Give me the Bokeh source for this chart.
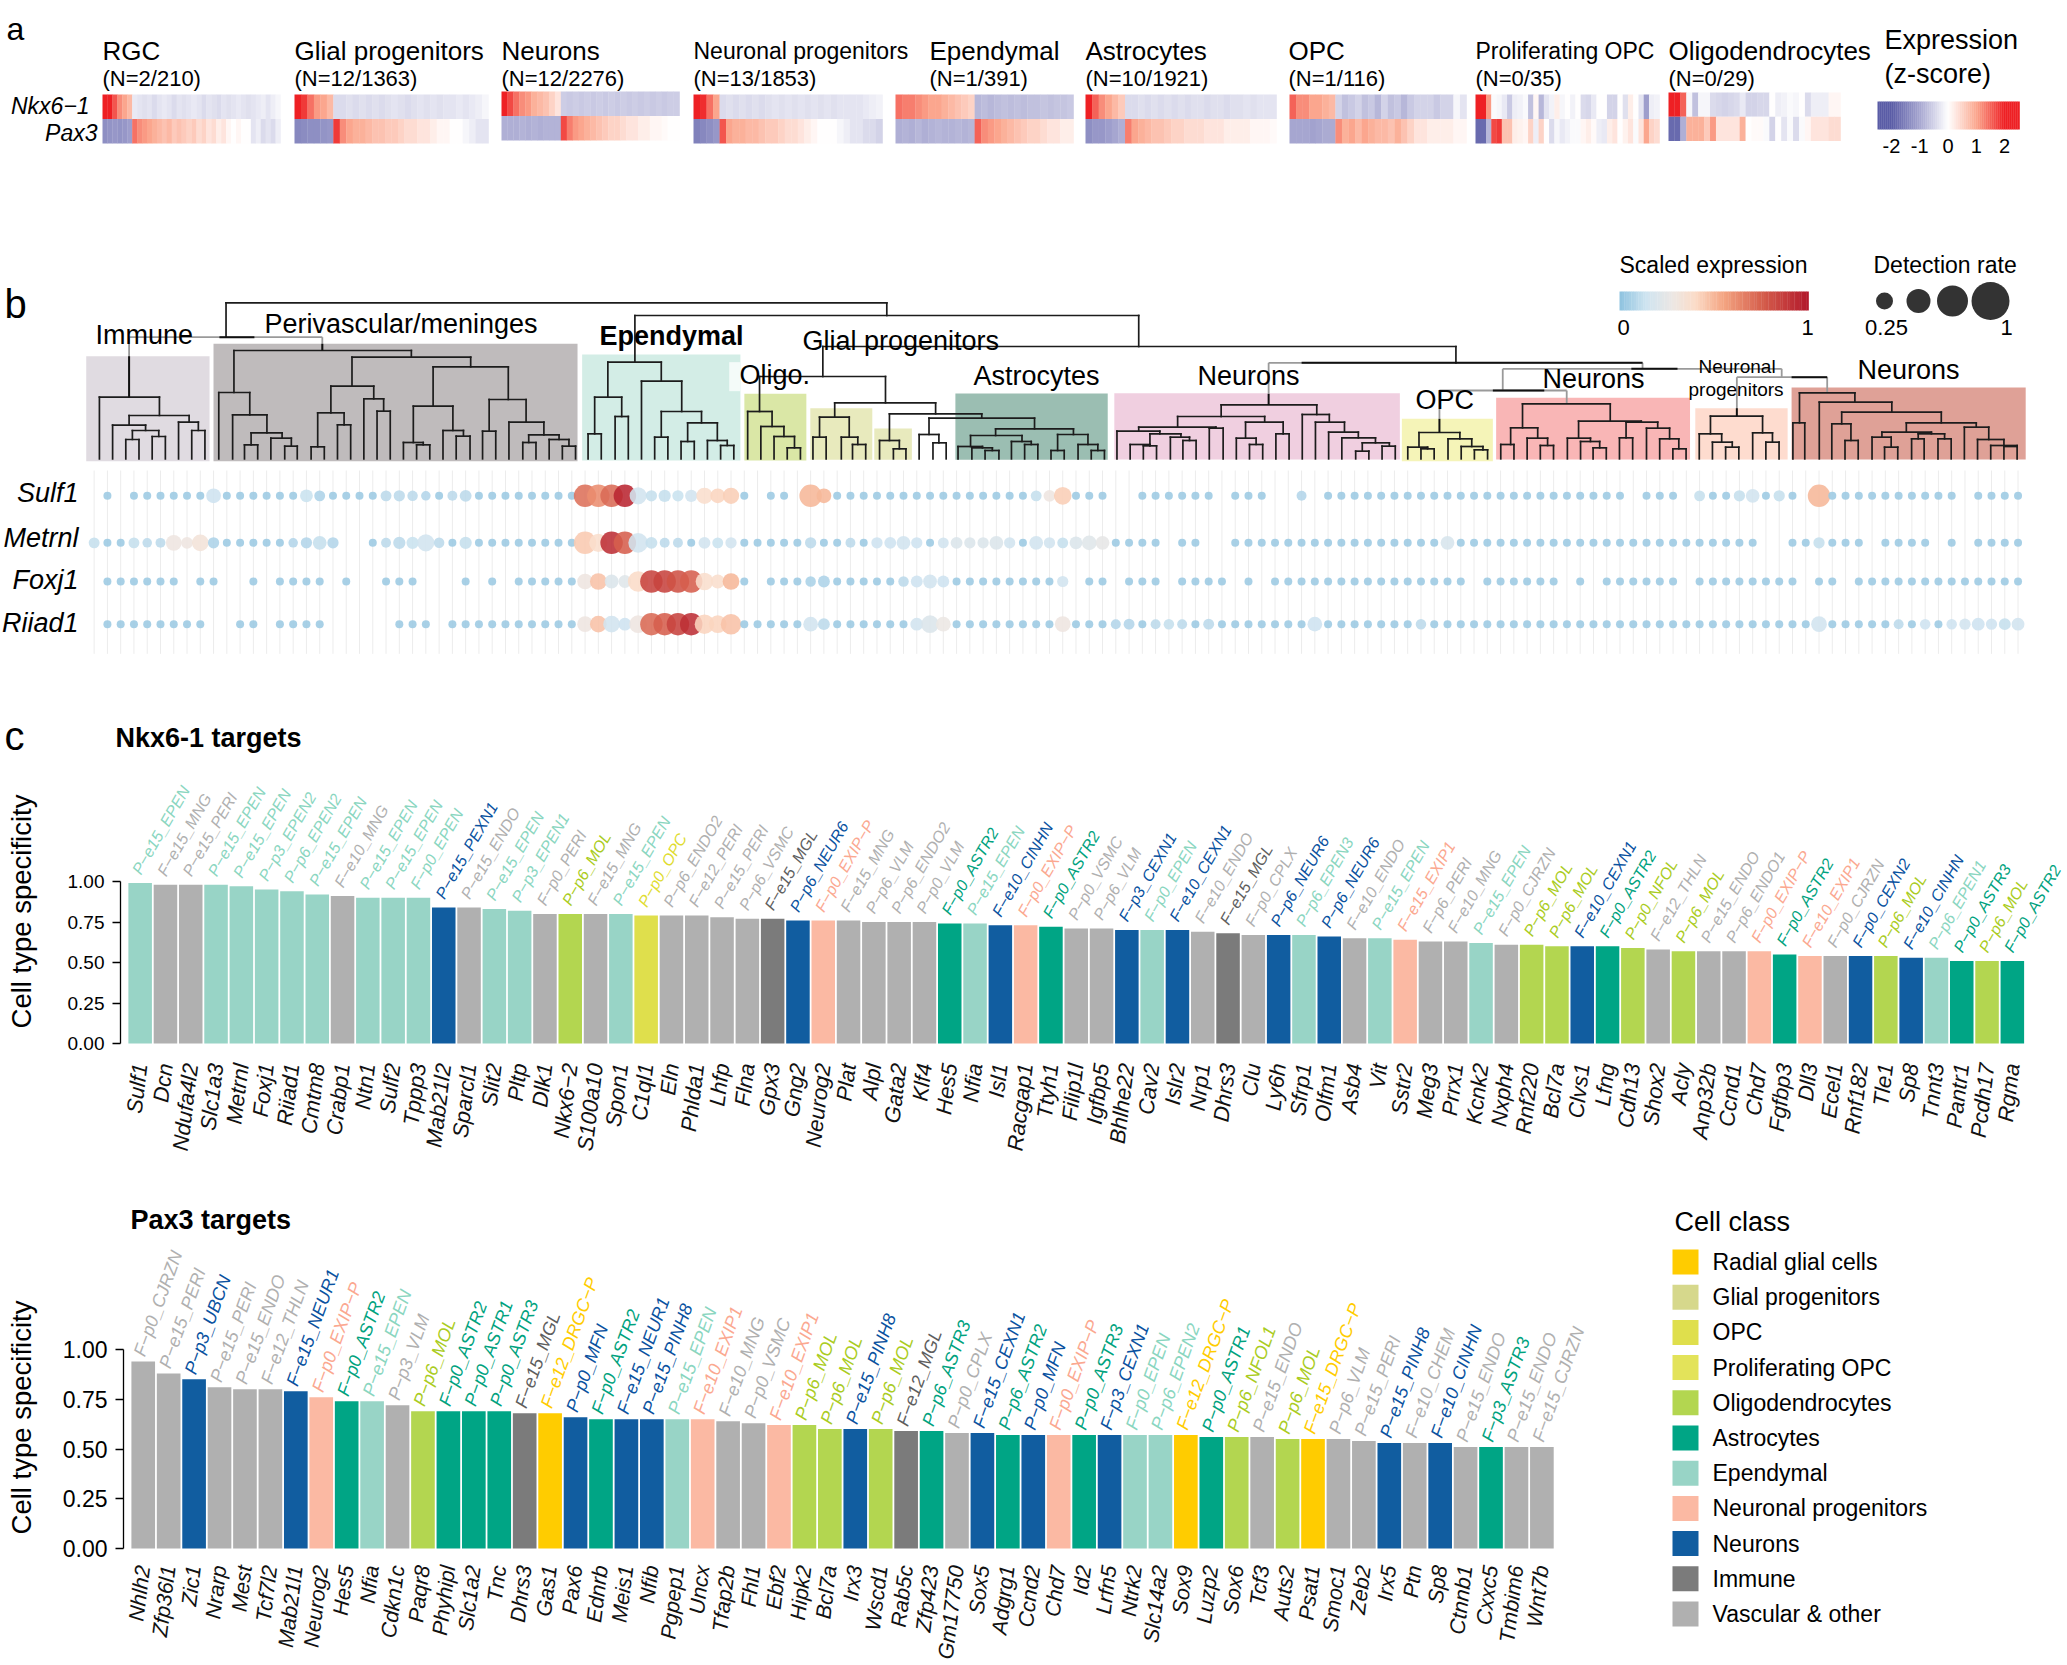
import numpy as np
from bokeh.core.properties import value
from bokeh.embed import file_html
from bokeh.layouts import column, row
from bokeh.models import ColumnDataSource, FixedTicker, LinearAxis, LinearColorMapper, NumeralTickFormatter, Range1d
from bokeh.plotting import figure
from bokeh.resources import INLINE
from bokeh.transform import transform

FONT = "Liberation Sans"

# ---------------- panel a data ----------------
heat_names = ["RGC", "Glial progenitors", "Neurons", "Neuronal progenitors", "Ependymal", "Astrocytes", "OPC",
              "Proliferating OPC", "Oligodendrocytes"]
heat_counts = ["(N=2/210)", "(N=12/1363)", "(N=12/2276)", "(N=13/1853)", "(N=1/391)", "(N=10/1921)", "(N=1/116)",
               "(N=0/35)", "(N=0/29)"]
rgc_nkx = [2, 2, 1.6, 1.2, 1.0, .8, -.25, -.3, -.35, -.3, -.4, -.3, -.25, -.3, -.4, -.3, -.35, -.3, -.25, -.3, -.4, -.3, -.35, -.4, -.3, -.35, -.3, -.25, -.3, -.35, -.3, -.25, -.2, -.3, -.2, -.1]
rgc_pax = [-1.3, -1.25, -1.2, -1.25, -1.2, -1.1, 1.4, 1.2, 1.1, 1.0, .9, .8, .7, .8, .6, .7, .6, .5, .6, .4, .5, .3, .4, .2, .3, .1, 0, .1, 0, 0, -.3, -.2, -.4, -.3, -.4, -.2]
glial_nkx = [2, 1.8, 1.4, 1.1, 1.0, .8, -.4, -.4, -.35, -.4, -.35, -.4, -.35, -.4, -.35, -.3, -.35, -.4, -.35, -.3, -.35, -.3, -.35, -.3, -.3, -.25, -.3, -.25, -.2, -.1]
glial_pax = [-1.4, -1.35, -1.3, -1.3, -1.25, -1.2, 1.8, 1.2, 1.0, .9, .9, .8, .7, .7, .6, .6, .5, .4, .4, .3, .3, .2, .1, .1, 0, 0, -.1, -.2, -.3, -.3]
neur_nkx = [2, 1.7, 1.4, 1.2, 1.1, .9, .8, .7, .5, .3, -.55, -.6, -.55, -.6, -.55, -.6, -.55, -.6, -.55, -.6, -.55, -.6, -.55, -.6, -.55, -.6, -.55, -.6, -.55, -.55]
neur_pax = [-.9, -.9, -.9, -.85, -.9, -.85, -.9, -.85, -.85, -.85, 1.7, 1.3, 1.1, 1, .9, .8, .7, .6, .5, .5, .4, .3, .3, .2, .2, .1, .1, .05, 0, 0]
nprog_nkx = [2, 1.9, 1.4, 1.0, -.4, -.35, -.4, -.35, -.4, -.35, -.4, -.35, -.3, -.35, -.3, -.35, -.3, -.35, -.3, -.35, -.3, -.35, -.3, -.3, -.3, -.3, -.25, -.2, -.15]
nprog_pax = [-1.5, -1.4, -1.3, -1.2, 1.6, 1.0, .9, .9, .8, .8, .7, .6, .6, .5, .4, .4, .3, .2, .1, 0, 0, 0, -.1, -.2, -.3, -.3, -.4, -.4, -.5]
epen_nkx = [1.4, 1.3, 1.3, 1.2, 1.1, 1, 1, .9, .8, .7, .6, .5, -.8, -.75, -.8, -.75, -.7, -.75, -.7, -.75, -.7, -.7, -.65, -.7, -.65, -.65, -.6]
epen_pax = [-.9, -.85, -.9, -.8, -.9, -.85, -.8, -.85, -.85, -.8, -.85, -.8, 1.5, 1.2, 1.1, 1, .9, .8, .7, .6, .5, .5, .4, .3, .3, .2, .2]
astro_nkx = [2, 1.5, 1.2, 1, .8, .6, -.4, -.4, -.35, -.4, -.35, -.4, -.35, -.4, -.35, -.4, -.35, -.35, -.4, -.35, -.35, -.4, -.35, -.35, -.3, -.35, -.3, -.3, -.3]
astro_pax = [-1.3, -1.2, -1.2, -1.1, -1, -.9, 1.3, 1, .9, .8, .7, .7, .6, .5, .5, .4, .4, .4, .3, .3, .3, .2, .2, .2, .2, .1, .1, .1, .05]
opc_nkx = [1.5, 1.2, 1.2, 1, 1, .9, .8, -.5, -.7, -.6, -.5, -.7, -.6, -.8, -.5, -.7, -.6, -.8, -.6, -.5, -.5, -.5, -.6, -.5, -.5, -.1, -.3]
opc_pax = [-1, -1, -1, -1.05, -1, -.95, -.95, 1.2, .9, 1, .8, 1, .9, .8, .8, .7, .9, .7, .5, .3, .3, .2, .2, .2, .2, .1, .1]
prolif_nkx = [2, 2, 1.1, -.05, -.1, -.25, -.6, -.2, -.15, -.05, -.7, .1, -.8, -.3, -.15, .2, -.1, 0, -.15, 0, -.4, -.45, -.25, 0, 0, -.5, -.5, 0, -.35, .2, 0, -.3, -1.1, -.2, -.15]
prolif_pax = [-1.8, -1.8, -.8, 1.7, 1.8, .7, .7, .2, .15, .1, .5, -.2, .5, 0, -.4, -.1, -.25, -.15, -.05, -.05, .1, .2, .05, -.2, -.25, .2, .3, 0, .15, .3, -.05, .3, 1.0, .5, .4]
oligo_nkx = [2, 2, 1.5, -.1, -.7, -.1, -.1, -.4, -.45, -.5, -.45, -.4, -.25, -.5, -.5, -.45, -.45, 0, -.2, -.15, -.05, -.1, 0, -.4, -.2, -.2, -.2, .1, .1]
oligo_pax = [-1.8, -1.8, -.9, .9, .9, .9, .6, 1.1, .3, .3, .3, .3, .9, 0, .05, .05, -.05, -.5, 0, -.3, -.05, -.4, -.05, .1, .3, .3, .3, .4, .4]
heat_top = [rgc_nkx, glial_nkx, neur_nkx, nprog_nkx, epen_nkx, astro_nkx, opc_nkx, prolif_nkx, oligo_nkx]
heat_bottom = [rgc_pax, glial_pax, neur_pax, nprog_pax, epen_pax, astro_pax, opc_pax, prolif_pax, oligo_pax]
z_ticks = [-2, -1, 0, 1, 2]

# ---------------- panel b data ----------------
group_left = [130, 323, 882, 1128, 1228, 1325, 1448, 1689, 2125, 2268, 2570, 2716]
group_right = [317, 875, 1122, 1222, 1322, 1382, 1679, 2122, 2263, 2562, 2710, 3071]
group_top = [347, 310, 342, 460, 503, 564, 459, 458, 535, 472, 503, 441]
group_bottom = [662, 662, 660, 660, 658, 658, 658, 657, 662, 657, 657, 657]
group_colors = ["#e0dbe1", "#bfbbbc", "#d3ede6", "#dae7a6", "#e8eabd", "#e8eabd", "#9bbeb2", "#f0cfe0", "#f5f4b8", "#f9b6b6", "#fedccf", "#dfa197"]

# merges: left leaf x, right leaf x, merge level, left child level, right child level
merges_grey = [(195, 488, 290, 470, 330), (2278, 2701, 385, 450, 410), (2182, 2375, 450, 535, 490), (2633, 2770, 410, 503, 457), (1923, 2490, 367, 460, 385)]
merges = [
    (342, 1344, 187, 290, 225), (962, 1726, 225, 365, 318), (1247, 2207, 318, 408, 367),
    (1151, 1342, 408, 513, 487), (1265, 1418, 487, 530, 520), (1348, 1488, 520, 600, 533),
    (1408, 1568, 533, 582, 565), (1509, 1627, 565, 585, 582), (1471, 1549, 585, 618, 603),
    (1452, 1489, 618, 655, 622), (1473, 1504, 622, 655, 630), (1493, 1514, 630, 655, 655),
    (1533, 1563, 603, 655, 612), (1553, 1573, 612, 655, 655), (1603, 1649, 582, 630, 612),
    (1593, 1613, 630, 655, 655), (1634, 1664, 612, 655, 630), (1654, 1674, 630, 655, 655),
    (1393, 1423, 582, 655, 607), (1414, 1434, 607, 655, 655), (1333, 1363, 600, 655, 625), (1354, 1373, 625, 655, 655),
    (1242, 1287, 530, 590, 590), (1232, 1252, 590, 655, 655), (1275, 1300, 590, 655, 612), (1292, 1312, 612, 655, 655),
    (1133, 1170, 513, 655, 558), (1153, 1188, 558, 655, 588), (1173, 1204, 588, 655, 622), (1193, 1213, 622, 655, 655),
    (150, 241, 470, 655, 525), (195, 286, 525, 554, 545), (170, 220, 554, 655, 570), (200, 240, 570, 597, 588),
    (190, 210, 597, 655, 655), (230, 250, 588, 655, 655), (270, 300, 545, 655, 570), (290, 310, 570, 655, 655),
    (354, 623, 330, 456, 350), (331, 378, 456, 655, 523), (352, 404, 523, 655, 577), (380, 427, 577, 613, 593),
    (370, 390, 613, 655, 655), (410, 441, 593, 655, 617), (431, 450, 617, 655, 655), (533, 713, 350, 437, 379),
    (501, 566, 437, 517, 475), (481, 521, 517, 619, 553), (471, 491, 619, 655, 655), (511, 531, 553, 655, 655),
    (551, 581, 475, 655, 512), (571, 591, 512, 655, 655), (656, 770, 379, 497, 477), (626, 686, 497, 606, 570),
    (611, 641, 606, 655, 613), (631, 651, 613, 655, 655), (671, 702, 570, 655, 587), (691, 712, 587, 655, 655),
    (741, 797, 477, 572, 545), (731, 751, 572, 655, 655), (771, 824, 545, 655, 583), (801, 847, 583, 606, 597),
    (792, 812, 606, 655, 655), (832, 862, 597, 655, 617), (852, 872, 617, 655, 655),
    (921, 1002, 365, 470, 422), (901, 942, 470, 580, 528), (891, 911, 580, 655, 655), (932, 952, 528, 655, 655),
    (972, 1033, 422, 655, 513), (1002, 1063, 513, 590, 547), (992, 1012, 590, 655, 655), (1042, 1087, 547, 603, 600),
    (1032, 1052, 603, 655, 655), (1072, 1102, 600, 655, 615), (1092, 1112, 615, 655, 655),
    (1851, 1996, 493, 528, 522), (1785, 1917, 528, 560, 545), (1726, 1843, 560, 572, 563), (1833, 1854, 563, 655, 655),
    (1693, 1758, 572, 655, 580), (1743, 1790, 580, 612, 590), (1713, 1743, 612, 655, 616), (1733, 1753, 616, 655, 655),
    (1774, 1803, 590, 655, 600), (1793, 1813, 600, 655, 655), (1888, 1945, 545, 593, 580), (1874, 1904, 593, 655, 612),
    (1894, 1914, 612, 655, 655), (1934, 1954, 580, 655, 655), (1974, 2015, 522, 655, 545), (1994, 2038, 545, 655, 575),
    (2014, 2059, 575, 655, 592), (2034, 2085, 592, 655, 607), (2065, 2106, 607, 632, 617), (2055, 2075, 632, 655, 655),
    (2095, 2115, 617, 655, 655),
    (2151, 2213, 576, 620, 595), (2134, 2164, 620, 655, 625), (2154, 2174, 625, 655, 655), (2195, 2231, 595, 655, 618),
    (2215, 2248, 618, 655, 628), (2235, 2255, 628, 655, 655),
    (2308, 2441, 490, 562, 542), (2290, 2331, 562, 612, 593), (2275, 2295, 612, 655, 655), (2315, 2346, 593, 655, 615),
    (2335, 2355, 615, 655, 655), (2393, 2488, 542, 593, 545), (2376, 2411, 593, 655, 603), (2396, 2425, 603, 655, 622),
    (2415, 2435, 622, 655, 655), (2465, 2513, 545, 592, 563), (2455, 2475, 592, 655, 655), (2496, 2531, 563, 655, 595),
    (2516, 2545, 595, 655, 625), (2536, 2556, 625, 655, 655),
    (2593, 2672, 527, 580, 577), (2576, 2610, 580, 655, 605), (2596, 2626, 605, 655, 620), (2616, 2636, 620, 655, 655),
    (2657, 2687, 577, 655, 605), (2677, 2697, 605, 655, 655),
    (2728, 2812, 457, 547, 485), (2718, 2736, 547, 655, 655), (2758, 2868, 485, 655, 515), (2792, 2943, 515, 550, 547),
    (2777, 2806, 550, 655, 600), (2797, 2817, 600, 655, 655), (2890, 2996, 547, 575, 560), (2853, 2928, 575, 590, 580),
    (2838, 2867, 590, 655, 620), (2857, 2877, 620, 655, 655), (2908, 2948, 580, 595, 595), (2898, 2917, 595, 655, 655),
    (2938, 2958, 595, 655, 655), (2978, 3015, 560, 655, 597), (2998, 3038, 597, 655, 615), (3018, 3058, 615, 655, 618),
    (3038, 3058, 618, 655, 655),
]
# the parts of the upper links that are drawn black: from x, from y, to x, to y
dark_pieces = [(332, 290, 385, 290), (2263, 450, 2341, 450), (2473, 385, 2543, 385), (2716, 410, 2770, 410), (1973, 367, 2490, 367),
               (1923, 460, 1923, 493), (2182, 535, 2182, 576), (2633, 503, 2633, 527), (195, 347, 195, 470), (488, 310, 488, 330)]

n_cols = 146
dot_genes = ["Sulf1", "Metrnl", "Foxj1", "Riiad1"]
sulf1_absent = [0, 2, 50, 53, 77, 78, 85, 89, 90, 92, 116, 120, 129, 141]
metrnl_absent = [19, 20, 81, 84, 85, 126, 127, 134, 139, 141]
foxj1_absent = [0, 7, 10, 11, 13, 18, 20, 21, 25, 26, 27, 29, 31, 50, 74, 77, 81, 86, 88, 104, 111, 113, 120, 129, 132]
riiad1_absent = [0, 9, 10, 13, 18, 19, 20, 21, 22, 26]
baseline_rate = 0.25
baseline_expr = 0.03
sulf1_marked = {9: (.6, .14), 16: (.5, .13), 17: (.4, .07), 22: (.4, .1), 23: (.42, .1), 24: (.38, .1), 25: (.33, .08), 27: (.35, .1), 28: (.45, .1),
                37: (1, .7), 38: (1, .62), 39: (1, .72), 40: (1, .95), 41: (.72, .16), 42: (.42, .12), 43: (.47, .12), 44: (.42, .13), 45: (.47, .15),
                46: (.68, .38), 47: (.6, .42), 48: (.68, .44), 54: (1, .5), 55: (.6, .5), 71: (.4, .12), 72: (.45, .3), 73: (.75, .44),
                91: (.35, .08), 121: (.4, .12), 124: (.42, .12), 125: (.55, .16), 127: (.42, .12), 130: (1, .5)}
metrnl_marked = {0: (.4, .12), 3: (.4, .12), 4: (.33, .1), 5: (.35, .1), 6: (.65, .3), 7: (.45, .3), 8: (.7, .33), 9: (.42, .07), 15: (.33, .08), 16: (.42, .08),
                 17: (.55, .12), 18: (.42, .08), 22: (.35, .1), 23: (.47, .1), 24: (.47, .13), 25: (.72, .16), 26: (.38, .1), 28: (.47, .12), 37: (1, .45), 38: (.78, .38),
                 39: (1, .92), 40: (1, .75), 41: (.85, .16), 42: (.45, .12), 43: (.35, .1), 44: (.35, .1), 46: (.45, .15), 47: (.4, .13), 48: (.42, .15), 54: (.42, .1),
                 57: (.35, .1), 59: (.42, .14), 60: (.45, .14), 61: (.55, .16), 62: (.42, .14), 64: (.4, .16), 65: (.45, .2), 66: (.42, .2), 67: (.42, .2), 68: (.55, .2),
                 69: (.42, .16), 71: (.55, .15), 72: (.42, .15), 73: (.4, .12), 74: (.5, .2), 75: (.6, .22), 76: (.55, .25), 102: (.55, .18), 130: (.42, .12)}
foxj1_marked = {37: (.65, .3), 38: (.7, .47), 39: (.55, .2), 40: (.5, .22), 41: (.9, .4), 42: (1, .85), 43: (1, .85), 44: (1, .8), 45: (1, .75), 46: (.75, .38),
                47: (.55, .38), 48: (.7, .5), 54: (.38, .06), 55: (.45, .07), 61: (.38, .1), 62: (.45, .14), 63: (.55, .16), 64: (.45, .14), 73: (.42, .15)}
riiad1_marked = {37: (.65, .3), 38: (.7, .47), 39: (.7, .15), 40: (.5, .14), 41: (.75, .3), 42: (1, .72), 43: (1, .75), 44: (1, .85), 45: (1, .92), 46: (.85, .42),
                 47: (.75, .42), 48: (.9, .47), 54: (.6, .15), 55: (.45, .1), 62: (.5, .15), 63: (.75, .2), 64: (.6, .28), 73: (.65, .3), 77: (.35, .08), 78: (.4, .08), 80: (.35, .1), 81: (.38, .12), 82: (.35, .1), 84: (.4, .1), 92: (.6, .14),
                 100: (.38, .1), 130: (.65, .16), 136: (.35, .1), 138: (.38, .14), 140: (.38, .14), 141: (.42, .16), 142: (.5, .14), 143: (.42, .14), 144: (.45, .12), 145: (.5, .16)}
scaled_ticks = ["0", "1"]
rate_ticks = ["0.25", "1"]

# ---------------- panel c data ----------------
class_names = ["Radial glial cells", "Glial progenitors", "OPC", "Proliferating OPC", "Oligodendrocytes", "Astrocytes", "Ependymal",
               "Neuronal progenitors", "Neurons", "Immune", "Vascular & other"]
class_codes = ["R", "G", "O", "PO", "OL", "A", "E", "NP", "N", "I", "V"]
class_colors = ["#ffcc00", "#d6d88c", "#dfdf4c", "#e3e35a", "#b3d650", "#00a585", "#98d4c6", "#fbb9a3", "#115da0", "#7b7b7b", "#b0b0b0"]
label_colors = dict(zip(class_codes, ["#ffcc00", "#d6d88c", "#e0dc30", "#e3e35a", "#aacc22", "#00a27e", "#8ad6c0", "#fba890", "#0a52a0", "#5e5e5e", "#b0b0b0"]))

nkx_genes = ["Sulf1", "Dcn", "Ndufa4l2", "Slc1a3", "Metrnl", "Foxj1", "Riiad1", "Cmtm8", "Crabp1", "Ntn1", "Sulf2", "Tppp3", "Mab21l2", "Sparcl1", "Slit2",
             "Pltp", "Dlk1", "Nkx6−2", "S100a10", "Spon1", "C1ql1", "Eln", "Phlda1", "Lhfp", "Flna", "Gpx3", "Gng2", "Neurog2", "Plat", "Alpl", "Gata2", "Klf4",
             "Hes5", "Nfia", "Isl1", "Racgap1", "Ttyh1", "Filip1l", "Igfbp5", "Bhlhe22", "Cav2", "Islr2", "Nrp1", "Dhrs3", "Clu", "Ly6h", "Sfrp1", "Olfm1", "Asb4",
             "Vit", "Sstr2", "Meg3", "Prrx1", "Kcnk2", "Nxph4", "Rnf220", "Bcl7a", "Clvs1", "Lfng", "Cdh13", "Shox2", "Acly", "Anp32b", "Ccnd1", "Chd7", "Fgfbp3",
             "Dll3", "Ecel1", "Rnf182", "Tle1", "Sp8", "Tnnt3", "Pantr1", "Pcdh17", "Rgma"]
nkx_values = [.99, .98, .98, .98, .97, .95, .94, .92, .91, .90, .90, .90, .84, .84, .83, .82, .80, .80, .80, .80, .79, .79, .79, .78, .77, .77, .76, .76, .76, .75,
              .75, .75, .74, .74, .73, .73, .72, .71, .71, .70, .70, .70, .69, .68, .67, .67, .67, .66, .65, .65, .64, .63, .63, .62, .61, .61, .60, .60, .60, .59,
              .58, .57, .57, .57, .57, .55, .54, .54, .54, .54, .53, .53, .51, .51, .51]
nkx_types = ["P-e15_EPEN", "F-e15_MNG", "P-e15_PERI", "P-e15_EPEN", "P-e15_EPEN", "P-p3_EPEN2", "P-p6_EPEN2", "P-e15_EPEN", "F-e10_MNG", "P-e15_EPEN", "P-e15_EPEN",
             "F-p0_EPEN", "P-e15_PEXN1", "P-e15_ENDO", "P-e15_EPEN", "P-p3_EPEN1", "F-p0_PERI", "P-p6_MOL", "F-e15_MNG", "P-e15_EPEN", "P-p0_OPC", "P-p6_ENDO2",
             "F-e12_PERI", "P-e15_PERI", "P-p6_VSMC", "F-e15_MGL", "P-p6_NEUR6", "F-p0_EXIP-P", "F-e15_MNG", "P-p6_VLM", "P-p6_ENDO2", "P-p0_VLM", "F-p0_ASTR2",
             "P-e15_EPEN", "F-e10_CINHN", "F-p0_EXIP-P", "F-p0_ASTR2", "P-p0_VSMC", "P-p6_VLM", "F-p3_CEXN1", "F-p0_EPEN", "F-e10_CEXN1", "F-e10_ENDO", "F-e15_MGL",
             "F-p0_CPLX", "P-p6_NEUR6", "P-p6_EPEN3", "P-p6_NEUR6", "F-e10_ENDO", "P-e15_EPEN", "F-e15_EXIP1", "F-p6_PERI", "F-e10_MNG", "P-e15_EPEN", "F-p0_CJRZN",
             "P-p6_MOL", "P-p6_MOL", "F-e10_CEXN1", "F-p0_ASTR2", "P-p0_NFOL", "F-e12_THLN", "P-p6_MOL", "P-e15_ENDO", "P-p6_ENDO1", "F-p0_EXIP-P", "F-p0_ASTR2",
             "F-e10_EXIP1", "F-p0_CJRZN", "F-p0_CEXN2", "P-p6_MOL", "F-e10_CINHN", "P-p6_EPEN1", "P-p0_ASTR3", "P-p6_MOL", "F-p0_ASTR2"]
nkx_classes = ["E", "V", "V", "E", "E", "E", "E", "E", "V", "E", "E", "E", "N", "V", "E", "E", "V", "OL", "V", "E", "O", "V", "V", "V", "V", "I", "N", "NP", "V", "V",
               "V", "V", "A", "E", "N", "NP", "A", "V", "V", "N", "E", "N", "V", "I", "V", "N", "E", "N", "V", "E", "NP", "V", "V", "E", "V", "OL", "OL", "N", "A", "OL",
               "V", "OL", "V", "V", "NP", "A", "NP", "V", "N", "OL", "N", "E", "A", "OL", "A"]

pax_genes = ["Nhlh2", "Zfp36l1", "Zic1", "Nrarp", "Mest", "Tcf7l2", "Mab21l1", "Neurog2", "Hes5", "Nfia", "Cdkn1c", "Paqr8", "Phyhipl", "Slc1a2", "Tnc", "Dhrs3", "Gas1",
             "Pax6", "Ednrb", "Meis1", "Nfib", "Pgpep1", "Uncx", "Tfap2b", "Fhl1", "Ebf2", "Hipk2", "Bcl7a", "Irx3", "Wscd1", "Rab5c", "Zfp423", "Gm17750", "Sox5",
             "Adgrg1", "Ccnd2", "Chd7", "Id2", "Lrfn5", "Ntrk2", "Slc14a2", "Sox9", "Luzp2", "Sox6", "Tcf3", "Auts2", "Psat1", "Smoc1", "Zeb2", "Irx5", "Ptn", "Sp8",
             "Ctnnb1", "Cxxc5", "Tmbim6", "Wnt7b"]
pax_values = [.94, .88, .85, .81, .80, .80, .79, .76, .74, .74, .72, .69, .69, .69, .69, .68, .68, .66, .65, .65, .65, .65, .65, .64, .63, .62, .62, .60, .60, .60,
              .59, .59, .58, .58, .57, .57, .57, .57, .57, .57, .57, .57, .56, .56, .56, .55, .55, .55, .54, .53, .53, .53, .51, .51, .51, .51]
pax_types = ["F-p0_CJRZN", "P-e15_PERI", "P-p3_UBCN", "P-e15_PERI", "P-e15_ENDO", "F-e12_THLN", "F-e15_NEUR1", "F-p0_EXIP-P", "F-p0_ASTR2", "P-e15_EPEN", "P-p3_VLM",
             "P-p6_MOL", "F-p0_ASTR2", "P-p0_ASTR1", "P-p0_ASTR3", "F-e15_MGL", "F-e12_DRGC-P", "P-p0_MFN", "F-p0_ASTR2", "F-e15_NEUR1", "P-e15_PINH8", "P-e15_EPEN",
             "F-e10_EXIP1", "F-e10_MNG", "P-p0_VSMC", "F-e10_EXIP1", "P-p6_MOL", "P-p6_MOL", "P-e15_PINH8", "P-p6_MOL", "F-e12_MGL", "P-p6_ASTR3", "P-p0_CPLX",
             "F-e15_CEXN1", "P-p6_ASTR2", "P-p0_MFN", "F-p0_EXIP-P", "P-p0_ASTR3", "F-p3_CEXN1", "F-p0_EPEN", "P-p6_EPEN2", "F-e12_DRGC-P", "P-p0_ASTR1", "P-p6_NFOL1",
             "P-e15_ENDO", "P-p6_MOL", "F-e15_DRGC-P", "P-p6_VLM", "P-e15_PERI", "P-e15_PINH8", "F-e10_CHEM", "F-e10_CINHN", "P-e15_ENDO", "F-p3_ASTR3", "P-e15_ENDO",
             "F-e15_CJRZN"]
pax_classes = ["V", "V", "N", "V", "V", "V", "N", "NP", "A", "E", "V", "OL", "A", "A", "A", "I", "R", "N", "A", "N", "N", "E", "NP", "V", "V", "NP", "OL", "OL", "N", "OL",
               "I", "A", "V", "N", "A", "N", "NP", "A", "N", "E", "E", "R", "A", "OL", "V", "OL", "R", "V", "V", "N", "V", "N", "V", "A", "V", "V"]
y_ticks = [0, .25, .5, .75, 1]

PAGE_W = 2067


def make_fig(w, h, xr, yr):
    p = figure(width=w, height=h, x_range=Range1d(*xr), y_range=Range1d(*yr), x_axis_type=None, y_axis_type=None,
               toolbar_location=None, output_backend="svg", min_border=0, outline_line_color=None,
               background_fill_color="white", border_fill_color="white")
    p.grid.visible = False
    return p


def put(p, x, y, text, size, align="left", baseline="middle", color="black", style="normal", angle=0):
    p.text(x=[x], y=[y], text=[text], text_font=value(FONT), text_font_size=f"{size}px", text_align=align,
           text_baseline=baseline, text_color=color, text_font_style=style, angle=angle)


def palette(stops, where=None, n=256):
    xs = np.linspace(0, 1, len(stops)) if where is None else np.array(where)
    rgb = np.array([[int(s[i:i + 2], 16) for i in (1, 3, 5)] for s in stops], dtype=float)
    t = np.linspace(0, 1, n)
    return ["#%02x%02x%02x" % tuple(int(round(np.interp(v, xs, rgb[:, k]))) for k in range(3)) for v in t]


# ======================= panel a =======================
pa = make_fig(PAGE_W, 235, (0, 2067), (235, 0))
z_map = LinearColorMapper(palette=palette(["#5a5ca6", "#a6a6d0", "#ffffff", "#fba88f", "#ee2024"]), low=-2, high=2)
block_left = [102, 294, 501, 693, 895, 1085, 1289, 1475, 1668]
block_right = [280, 488, 679, 882, 1073, 1276, 1466, 1659, 1840]
block_top = [94, 94, 91, 94, 94, 94, 94, 94, 92]
row_h = [24.5, 24.5, 24.5, 24.5, 24.5, 24.5, 24.5, 24.5, 24.2]
label_x = [102, 294, 501, 693, 929, 1085, 1288, 1475, 1668]
name_size = [26, 26, 26, 23, 26, 26, 26, 23, 26]
lefts, rights, tops, bottoms, vals = [], [], [], [], []
for k in range(9):
    for r, series in enumerate((heat_top[k], heat_bottom[k])):
        edges = np.linspace(block_left[k], block_right[k], len(series) + 1)
        for j, v in enumerate(series):
            lefts.append(edges[j]); rights.append(edges[j + 1] + 0.3)
            tops.append(block_top[k] + r * row_h[k]); bottoms.append(block_top[k] + (r + 1) * row_h[k])
            vals.append(v)
    put(pa, label_x[k], 50, heat_names[k], name_size[k])
    put(pa, label_x[k], 78, heat_counts[k], 22)
pa.quad(left="l", right="r", top="t", bottom="b", line_color=None,
        fill_color=transform("v", z_map), source=ColumnDataSource(dict(l=lefts, r=rights, t=tops, b=bottoms, v=vals)))
put(pa, 89, 105, "Nkx6−1", 23, align="right", style="italic")
put(pa, 97, 132, "Pax3", 23, align="right", style="italic")
put(pa, 6, 28, "a", 32, baseline="alphabetic")
put(pa, 1884, 39, "Expression", 27)
put(pa, 1884, 73, "(z-score)", 27)
edges = np.linspace(1877, 2019, 72)
mids = (edges[:-1] + edges[1:]) / 2
pa.quad(left="l", right="r", top="t", bottom="b", line_color=None, fill_color=transform("v", z_map),
        source=ColumnDataSource(dict(l=edges[:-1], r=edges[1:] + 0.3, t=[101] * 71, b=[129] * 71, v=(mids - 1947.5) / 28.25)))
for z in z_ticks:
    put(pa, 1947.5 + z * 28.25, 145, str(z), 20, align="center")

# ======================= panel b =======================
KX = 1.5164
pb = make_fig(PAGE_W, 455, (0, 2067 * KX), ((690 - 240) * 3, (235 - 240) * 3))
bx = lambda px: px * KX
by = lambda py: (py - 240) * 3
pb.quad(left=group_left, right=group_right, top=group_top, bottom=group_bottom, fill_color=group_colors, line_color=None)
pb.quad(left=[1105], right=[1122], top=[365], bottom=[452], fill_color=["#f4fbf9"], line_color=None)


def bracket_segments(items):
    x0, y0, x1, y1 = [], [], [], []
    for xl, xr, top, low_l, low_r in items:
        x0 += [xl, xl, xr]; y0 += [top, top, top]
        x1 += [xr, xl, xr]; y1 += [top, low_l, low_r]
    return dict(x0=x0, y0=y0, x1=x1, y1=y1)


pb.segment("x0", "y0", "x1", "y1", source=ColumnDataSource(bracket_segments(merges_grey)), line_color="#9a9a9a", line_width=1.8)
pb.segment("x0", "y0", "x1", "y1", source=ColumnDataSource(bracket_segments(merges)), line_color="#1c1c1c", line_width=1.7, line_cap="square")
pb.segment(x0=[q[0] for q in dark_pieces], y0=[q[1] for q in dark_pieces], x1=[q[2] for q in dark_pieces], y1=[q[3] for q in dark_pieces],
           line_color="#111111", line_width=2.0)

col_x = [142 + 20.12 * i for i in range(n_cols)]
pb.segment(x0=col_x, x1=col_x, y0=[690] * n_cols, y1=[1240] * n_cols, line_color="#ececec", line_width=1, level="underlay")
expr_map = LinearColorMapper(palette=palette(["#8fc3e0", "#cfe4f0", "#ece7e4", "#fbdcc8", "#f4a582", "#d6604d", "#b2182b"],
                                             [0, .14, .28, .4, .55, .75, 1]), low=0, high=1)
row_y = [766, 907, 1023, 1151]
absent_all = [sulf1_absent, metrnl_absent, foxj1_absent, riiad1_absent]
marked_all = [sulf1_marked, metrnl_marked, foxj1_marked, riiad1_marked]
dx, dy, ds, de = [], [], [], []
for yy, absent, marked in zip(row_y, absent_all, marked_all):
    for i in range(n_cols):
        if i in absent:
            continue
        rate, expr = marked.get(i, (baseline_rate, baseline_expr))
        dx.append(col_x[i]); dy.append(yy); ds.append(8 + (rate - .25) / .75 * 14.5); de.append(expr)
pb.scatter(x="x", y="y", size="s", marker="circle", line_color=None, fill_alpha=0.88, fill_color=transform("e", expr_map),
           source=ColumnDataSource(dict(x=dx, y=dy, s=ds, e=de)))
for name, py in zip(dot_genes, [492, 537, 579, 622]):
    put(pb, bx(78), by(py), name, 27, align="right", style="italic")
put(pb, bx(4), by(303), "b", 40)
for txt, px, py, size, style in [("Immune", 95, 334, 27, "normal"), ("Perivascular/meninges", 264, 323, 27, "normal"),
                                 ("Ependymal", 599, 335, 27, "bold"), ("Glial progenitors", 802, 340, 27, "normal"),
                                 ("Oligo.", 739, 374, 27, "normal"), ("Astrocytes", 973, 375, 27, "normal"),
                                 ("Neurons", 1197, 375, 27, "normal"), ("OPC", 1415, 399, 27, "normal"),
                                 ("Neurons", 1542, 378, 27, "normal"), ("Neuronal", 1698, 366, 19, "normal"),
                                 ("progenitors", 1688, 389, 19, "normal"), ("Neurons", 1857, 369, 27, "normal"),
                                 ("Scaled expression", 1619, 264, 23, "normal"), ("Detection rate", 1873, 264, 23, "normal")]:
    put(pb, bx(px), by(py), txt, size, style=style)
ce = np.linspace(1619, 1808, 81)
pb.quad(left="l", right="r", top="t", bottom="b", line_color=None, fill_color=transform("e", expr_map),
        source=ColumnDataSource(dict(l=bx(ce[:-1]), r=bx(ce[1:]) + .5, t=[by(291)] * 80, b=[by(310)] * 80, e=((ce[:-1] + ce[1:]) / 2 - 1619) / 189)))
put(pb, bx(1623), by(327), scaled_ticks[0], 22, align="center")
put(pb, bx(1807), by(327), scaled_ticks[1], 22, align="center")
pb.scatter(x=[bx(1884), bx(1918), bx(1952), bx(1990)], y=[by(300.5)] * 4, size=[17, 24, 31, 38], marker="circle", fill_color="#333333", line_color=None)
put(pb, bx(1886), by(327), rate_ticks[0], 22, align="center")
put(pb, bx(2006), by(327), rate_ticks[1], 22, align="center")


# ======================= panel c =======================
def bar_panel(w, h, screen_top, x_first, pitch, y0_px, y_scale, genes, values, types, classes, angle, lab_size, lab_offset, gene_size, gene_standoff, tick_size, axis_px, title, title_px, title_py, ylab_py):
    sx = lambda px: (px - x_first) / pitch
    sy = lambda py: (y0_px - py) / y_scale
    p = make_fig(w, h, (sx(0), sx(w)), (sy(screen_top + h), sy(screen_top)))
    idx = list(range(1, len(genes) + 1))
    cmap = dict(zip(class_codes, class_colors))
    src = ColumnDataSource(dict(x=idx, top=values, color=[cmap[c] for c in classes],
                                label=[t.replace("-", "−") for t in types], lab=[label_colors[c] for c in classes]))
    p.vbar(x="x", top="top", bottom=0, width=0.93, fill_color="color", line_color=None, source=src)
    p.text(x="x", y="top", text="label", text_color="lab", text_font=value(FONT), text_font_style="italic", text_font_size=f"{lab_size}px",
           text_align="left", text_baseline="middle", angle=np.radians(angle), x_offset=lab_offset[0], y_offset=lab_offset[1], source=src)
    xa = LinearAxis(ticker=FixedTicker(ticks=idx), major_label_overrides={i: g for i, g in zip(idx, genes)}, fixed_location=0,
                    axis_line_color=None, major_tick_line_color=None, minor_tick_line_color=None, major_label_standoff=gene_standoff,
                    major_label_orientation=float(np.radians(83)), major_label_text_font=FONT, major_label_text_font_style="italic",
                    major_label_text_font_size=f"{gene_size}px", major_label_text_color="#111111")
    p.add_layout(xa, "below")
    ya = LinearAxis(ticker=FixedTicker(ticks=y_ticks), formatter=NumeralTickFormatter(format="0.00"), fixed_location=sx(axis_px), bounds=(0, 1),
                    axis_line_color="black", axis_line_width=1.3, major_tick_line_color="black", major_tick_line_width=1.3, major_tick_out=8, major_tick_in=0,
                    minor_tick_line_color=None, major_label_standoff=8, major_label_text_font=FONT, major_label_text_font_size=f"{tick_size}px",
                    major_label_text_color="black")
    p.add_layout(ya, "left")
    put(p, sx(title_px), sy(title_py), title, 27, style="bold")
    put(p, sx(21), sy(ylab_py), "Cell type specificity", 27.5, align="center", angle=np.pi / 2)
    return p, sx, sy


pc1, sx1, sy1 = bar_panel(PAGE_W, 500, 690, 114.35, 25.3, 1043, 162, nkx_genes, nkx_values, nkx_types, nkx_classes, 60, 16, (-4, -10), 22, 14, 19, 120,
                          "Nkx6-1 targets", 115, 737, 911)
put(pc1, sx1(4), sy1(735), "c", 40)
pc2, sx2, sy2 = bar_panel(1650, 475, 1190, 117.3, 25.43, 1548, 199, pax_genes, pax_values, pax_types, pax_classes, 70, 18, (-4, -6), 21.5, 11, 23, 123,
                          "Pax3 targets", 130, 1219, 1417)

leg = make_fig(PAGE_W - 1650, 475, (1650, 2067), ((1665 - 1261.5) / 35.2, (1190 - 1261.5) / 35.2))
ix = list(range(len(class_names)))
leg.rect(x=[1685] * len(ix), y=ix, width=26, height=25 / 35.2, fill_color=class_colors, line_color=None)
for i, nm in enumerate(class_names):
    put(leg, 1712, i, nm, 23)
put(leg, 1674, (1221 - 1261.5) / 35.2, "Cell class", 27)

layout = column(pa, pb, pc1, row(pc2, leg, spacing=0), spacing=0)
open("out.html", "w").write(file_html(layout, INLINE))
